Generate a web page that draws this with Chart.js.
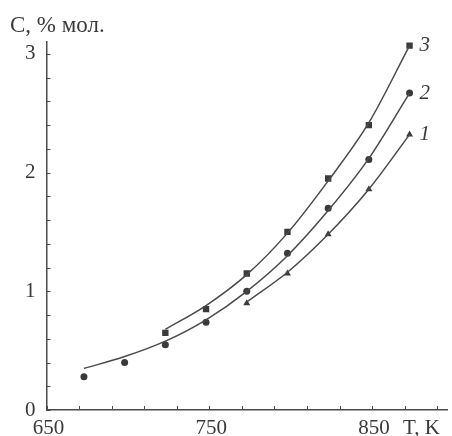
<!DOCTYPE html>
<html>
<head>
<meta charset="utf-8">
<script src="https://cdn.jsdelivr.net/npm/chart.js@4.4.1/dist/chart.umd.min.js"></script>
<style>
  html, body { margin: 0; padding: 0; background: #fff; }
  #wrap { width: 452px; height: 436px; }
</style>
</head>
<body>
<div id="wrap"><canvas id="chart"></canvas></div>
<script>
// temperatures, K
let temps1 = [773, 798, 823, 848, 873];
let temps2 = [673, 698, 723, 748, 773, 798, 823, 848, 873];
let temps3 = [723, 748, 773, 798, 823, 848, 873];

// measured points, % mol
let points1 = [0.90, 1.15, 1.48, 1.86, 2.32];
let points2 = [0.28, 0.40, 0.55, 0.74, 1.00, 1.32, 1.70, 2.11, 2.67];
let points3 = [0.65, 0.85, 1.15, 1.50, 1.95, 2.40, 3.07];

// fitted curves
let fit1 = [0.91, 1.16, 1.48, 1.86, 2.32];
let fit2 = [0.35, 0.45, 0.58, 0.76, 1.00, 1.30, 1.68, 2.12, 2.67];
let fit3 = [0.68, 0.88, 1.14, 1.49, 1.93, 2.42, 3.07];

let curveNames = ['1', '2', '3'];
let xTicks = [650, 670, 690, 710, 730, 750, 770, 790, 810, 830, 850, 870, 890];
let xTickLabels = [650, 750, 850];
let yTicks = [0, 0.2, 0.4, 0.6, 0.8, 1, 1.2, 1.4, 1.6, 1.8, 2, 2.2, 2.4, 2.6, 2.8, 3];
let yTickLabels = [0, 1, 2, 3];

let ink = '#3a3a3a';
let serif = '"Liberation Serif", "DejaVu Serif", serif';

let toXY = (xs, ys) => xs.map((x, i) => ({ x: x, y: ys[i] }));

let pointSet = (xs, ys, style, r) => ({
    data: toXY(xs, ys),
    showLine: false,
    pointStyle: style,
    pointRadius: r,
    pointBackgroundColor: ink,
    pointBorderColor: ink,
    pointBorderWidth: 0
});

let curveSet = (xs, ys, name) => ({
    label: name,
    data: toXY(xs, ys),
    showLine: true,
    borderColor: '#4a4a4a',
    borderWidth: 1.5,
    cubicInterpolationMode: 'monotone',
    pointRadius: 0
});

// inward ticks, x labels, axis captions and curve numbers
let decorations = {
    id: 'decorations',
    afterDraw: (chart) => {
        let ctx = chart.ctx;
        let xs = chart.scales.x;
        let ys = chart.scales.y;
        let area = chart.chartArea;
        ctx.save();
        ctx.strokeStyle = '#4a4a4a';
        ctx.lineWidth = 1;
        xTicks.forEach(v => {
            let px = Math.round(xs.getPixelForValue(v)) + 0.5;
            ctx.beginPath();
            ctx.moveTo(px, area.bottom);
            ctx.lineTo(px, area.bottom - 4);
            ctx.stroke();
        });
        yTicks.forEach(v => {
            let py = Math.round(ys.getPixelForValue(v)) + 0.5;
            ctx.beginPath();
            ctx.moveTo(area.left, py);
            ctx.lineTo(area.left + 4, py);
            ctx.stroke();
        });

        ctx.fillStyle = ink;
        ctx.textBaseline = 'middle';
        ctx.font = '21px ' + serif;
        ctx.textAlign = 'center';
        xTickLabels.forEach(v => {
            ctx.fillText(String(v), xs.getPixelForValue(v) + 2, area.bottom + 18);
        });
        ctx.textAlign = 'left';
        ctx.fillText('T, K', 403, area.bottom + 18);
        ctx.font = '23px ' + serif;
        ctx.fillText('C, % мол.', 10, 26);

        ctx.font = 'italic 21px ' + serif;
        let ends = [[temps1, fit1], [temps2, fit2], [temps3, fit3]];
        ends.forEach((e, i) => {
            let last = e[0].length - 1;
            let px = xs.getPixelForValue(e[0][last]);
            let py = ys.getPixelForValue(e[1][last]);
            ctx.fillText(curveNames[i], px + 10, py);
        });
        ctx.restore();
    }
};

let isLabelled = (v, list) => list.some(l => Math.abs(l - v) < 1e-6);

new Chart(document.getElementById('chart'), {
    type: 'scatter',
    data: {
        datasets: [
            curveSet(temps1, fit1, curveNames[0]),
            curveSet(temps2, fit2, curveNames[1]),
            curveSet(temps3, fit3, curveNames[2]),
            pointSet(temps1, points1, 'triangle', 4),
            pointSet(temps2, points2, 'circle', 3.5),
            pointSet(temps3, points3, 'rect', 4.5)
        ]
    },
    options: {
        responsive: true,
        maintainAspectRatio: false,
        animation: false,
        layout: { padding: { left: 14, right: 5, top: 42, bottom: 26 } },
        plugins: {
            legend: { display: false },
            tooltip: { enabled: false }
        },
        scales: {
            x: {
                type: 'linear',
                min: 650,
                max: 896,
                afterBuildTicks: (scale) => { scale.ticks = xTicks.map(v => ({ value: v })); },
                grid: { display: false, drawTicks: false },
                border: { display: true, color: '#4a4a4a', width: 1.5 },
                ticks: { display: false }
            },
            y: {
                min: 0,
                max: 3.1,
                afterBuildTicks: (scale) => { scale.ticks = yTicks.map(v => ({ value: v })); },
                grid: { display: false, drawTicks: false },
                border: { display: true, color: '#4a4a4a', width: 1.5 },
                ticks: {
                    autoSkip: false,
                    padding: 11,
                    color: ink,
                    font: { family: serif, size: 21 },
                    callback: (v) => isLabelled(v, yTickLabels) ? String(Math.round(v)) : ''
                }
            }
        }
    },
    plugins: [decorations]
});
</script>
</body>
</html>
